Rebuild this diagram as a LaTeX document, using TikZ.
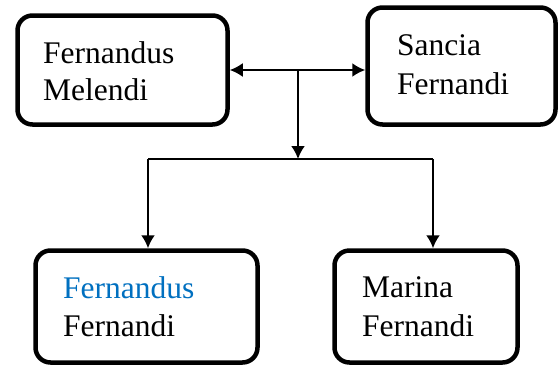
\documentclass[tikz,border=0pt]{standalone}
\usepackage{fontspec}
\setmainfont{Liberation Serif}
\usetikzlibrary{arrows.meta}
\definecolor{nameblue}{HTML}{0070C0}
\tikzset{
  box/.style={draw, line width=4.5pt, rounded corners=15pt, inner sep=0pt, fill=white},
  lbl/.style={anchor=base west, inner sep=0pt, font=\fontsize{31.5pt}{37pt}\selectfont},
  tip/.style={Latex[length=13pt,width=14pt]},
  conn/.style={line width=2pt, -{Latex[length=13pt,width=14pt]}},
  dconn/.style={line width=2pt, {Latex[length=13pt,width=14pt]}-{Latex[length=13pt,width=14pt]}},
  line/.style={line width=1.8pt},
}
\begin{document}
\begin{tikzpicture}[x=1pt,y=-1pt]
\useasboundingbox (0,0) rectangle (559,368);
\node[box, minimum width=210pt, minimum height=109pt] (b1) at (122.5,70) {};
\node[box, minimum width=188pt, minimum height=117pt] (b2) at (461.5,66) {};
\node[box, minimum width=222pt, minimum height=112pt] (b3) at (146.5,306.5) {};
\node[box, minimum width=183pt, minimum height=112pt] (b4) at (426,306.5) {};
\node[lbl] (t1a) at (43,63) {Fernandus};
\node[lbl] (t1b) at (43,100) {Melendi};
\node[lbl] (t2a) at (397,55) {Sancia};
\node[lbl] (t2b) at (397,94) {Fernandi};
\node[lbl, text=nameblue] (t3a) at (63,298) {Fernandus};
\node[lbl] (t3b) at (63,336) {Fernandi};
\node[lbl] (t4a) at (362,297) {Marina};
\node[lbl] (t4b) at (362,336) {Fernandi};
\coordinate (j) at (298,70);
\coordinate (m) at (298,159);
\coordinate (l) at (148,159);
\coordinate (r) at (433,159);
\draw[dconn] (b1.east |- j) -- (j -| b2.west);
\draw[conn] (j) -- (m);
\draw[line] (l) -- (r);
\draw[conn] (l) -- (l |- b3.north);
\draw[conn] (r) -- (r |- b4.north);
\end{tikzpicture}
\end{document}
